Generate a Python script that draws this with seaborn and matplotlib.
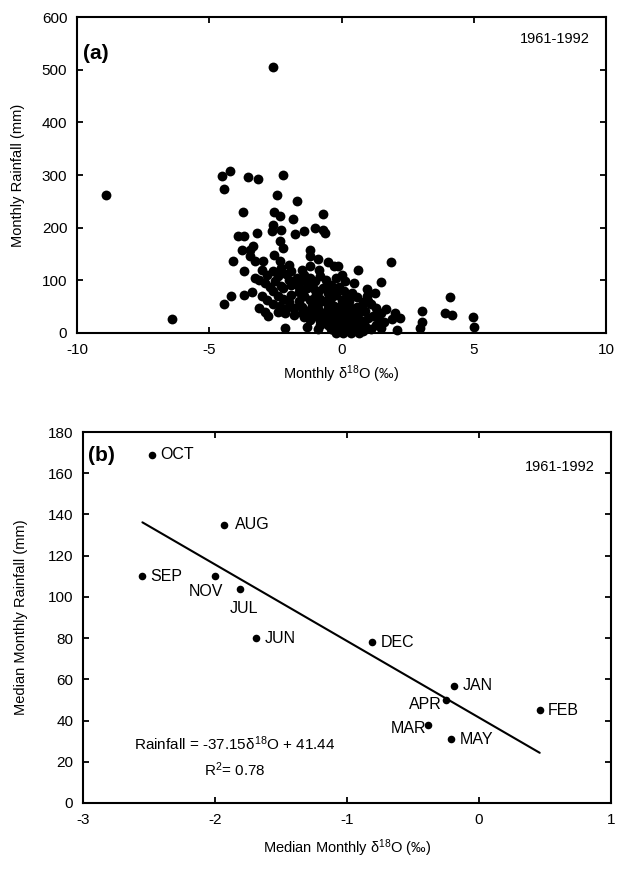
import matplotlib
matplotlib.use("Agg")
import matplotlib.pyplot as plt
import seaborn as sns
import pandas as pd

# ---------------- data ----------------
# Panel (a): monthly d18O vs monthly rainfall
d18o_monthly = [
    -8.9, -6.4, -2.6,
    -4.5, -4.2, -4.43, -3.54, -3.16, -2.2, -2.45, -1.7, -3.71, -2.55, -2.34, -0.71, -1.84,
    -2.58, -2.27, -2.62, -3.19, -3.9, -3.68, -1.77, -1.42, -1.02, -0.71, -0.64,
    -2.34, -2.2, -3.33, -3.75, -3.47, -1.2, -1.2, -4.1,
    -3.47, -3.26, -2.97, -2.55, -2.34, -1.98, -2.27, -3.68,
    -1.49, -1.2, -0.85, -0.28, -0.14, 0.61, 1.89, -3.26, -3.12,
    0.14, 0.47, 1.49, 0.95, 1.28, 0.95,
    -4.46, -4.18, -3.68, -3.4, -3.12, -2.76, -2.34, -2.27, -2.12, -2.12,
    3.04, 3.04, 2.95, 4.1, 3.92, 4.19, 4.99, 5.0, 2.03, 2.23, 2.1,
    -3.0, -2.8, -2.6, -2.4, -2.1, -1.9, -1.7, -2.9, -2.7, -2.5, -2.3, -2.0, -1.8, -1.6,
    -3.0, -2.8, -2.6, -2.4, -2.2, -1.9, -1.6, -2.9, -2.6, -2.0, -1.8, -1.6,
    -1.4, -1.2, -1.0, -0.8, -0.6, -0.4, -0.2, 0.0, -1.3, -1.1, -0.9, -0.7, -0.5, -0.3,
    -0.1, 0.1, -1.4, -1.2, -1.0, -0.8, -0.6, -0.4, -0.2, 0.0, 0.2, 0.4, 0.6,
    -1.5, -1.3, -1.1, -0.9, -0.7, -0.5, -0.3, -0.1, 0.1, 0.3, 0.5, 0.7, 0.9, 1.1, 1.3,
    1.5, 1.7, -1.4, -1.2, -1.0, -0.8, -0.6, -0.4, -0.2, 0.0, 0.2, 0.4, 0.6, 0.8, 1.0,
    1.2, 1.4, 1.6, 1.9,
    -1.3, -0.9, -0.5, -0.3, -0.1, 0.0, 0.1, 0.2, 0.3, 0.4, 0.5, 0.6, 0.7, 0.8, 0.9,
    1.1, 1.3, 1.5, 0.35, 0.05, -0.2, 0.65,
    -0.9, -0.5, 0.2, 0.8, 1.0, 0.3, -0.15, 0.45,
    -0.8, -0.6, -0.4, -0.2, 0.0, 0.2, 0.4, 0.6, 0.8, -0.7, -0.5, -0.3, -0.1, 0.1,
    0.3, 0.5, 0.7, -0.9, -0.6, -0.3, 0.0, 0.3, 0.6, 0.9, -2.2, -1.9, -1.6, -1.3,
    -1.0, -2.4, -2.1, -1.8, -1.5, -1.2,
]
rain_monthly = [
    262, 26, 505,
    298, 307, 274, 296, 292, 300, 262, 250, 230, 230, 223, 225, 217,
    205, 195, 194, 189, 184, 184, 188, 193, 200, 195, 189,
    175, 162, 165, 158, 157, 158, 147, 137,
    146, 137, 137, 149, 137, 130, 123, 117,
    120, 127, 120, 127, 127, 120, 134, 105, 100,
    98, 95, 96, 84, 76, 70,
    56, 70, 73, 77, 47, 33, 52, 41, 38, 10,
    41, 20, 10, 68, 38, 35, 30, 12, 38, 28, 6,
    120, 110, 118, 108, 112, 118, 105, 95, 88, 98, 90, 100, 95, 100,
    70, 62, 80, 70, 65, 72, 78, 40, 55, 58, 48, 60,
    110, 105, 98, 108, 100, 92, 105, 110, 85, 90, 78, 85, 75, 82,
    88, 80, 70, 62, 68, 65, 60, 66, 72, 62, 70, 75, 68,
    50, 42, 52, 45, 38, 48, 42, 50, 45, 52, 40, 48, 42, 55, 48,
    38, 45, 30, 25, 32, 22, 28, 20, 30, 24, 33, 26, 30, 22, 28,
    32, 25, 20, 26,
    12, 8, 15, 5, 12, 2, 8, 16, 3, 10, 18, 5, 12, 3, 14,
    8, 15, 10, 0, 0, 0, 0,
    140, 135, 58, 58, 60, 15, 20, 35,
    15, 20, 8, 22, 12, 25, 14, 20, 10, 35, 40, 32, 38, 30,
    42, 36, 40, 55, 58, 52, 56, 60, 50, 58, 85, 92, 88, 95,
    82, 40, 45, 35, 38, 42,
]

# Panel (b): median monthly values
months = ["OCT", "AUG", "SEP", "NOV", "JUL", "JUN", "DEC", "JAN", "APR", "MAR", "MAY", "FEB"]
d18o_median = [-2.48, -1.93, -2.55, -2.00, -1.81, -1.69, -0.81, -0.19, -0.25, -0.39, -0.21, 0.46]
rain_median = [169, 135, 110, 110, 104, 80, 78, 57, 50, 38, 31, 45]

# regression (from the figure's equation)
reg_slope = -37.15
reg_intercept = 41.44

period_label = "1961-1992"

# ---------------- style ----------------
sns.set_theme(style="ticks")
plt.rcParams["font.family"] = ["Liberation Sans", "DejaVu Sans"]
plt.rcParams["mathtext.fontset"] = "custom"
plt.rcParams["mathtext.rm"] = "Liberation Sans"
plt.rcParams["mathtext.it"] = "Liberation Sans:italic"
plt.rcParams["mathtext.bf"] = "Liberation Sans:bold"
plt.rcParams["axes.unicode_minus"] = False
for key in ["text.color", "axes.labelcolor", "xtick.color", "ytick.color",
            "axes.edgecolor"]:
    plt.rcParams[key] = "black"

fig = plt.figure(figsize=(6.17, 8.72), dpi=100)
W, H = 617, 872

def box(l, r, t, b):
    return [l / W, 1 - b / H, (r - l) / W, (b - t) / H]

ax1 = fig.add_axes(box(77, 606, 17, 333))
ax2 = fig.add_axes(box(83, 611, 432, 803))

def style_axes(ax):
    for s in ax.spines.values():
        s.set_linewidth(1.5)
        s.set_color("black")
    ax.tick_params(direction="in", length=4, width=1.3, top=True, right=True,
                   labelsize=11, colors="black", pad=7)

# ---- panel (a)
dfa = pd.DataFrame({"d18O": d18o_monthly, "rain": rain_monthly})
sns.scatterplot(data=dfa, x="d18O", y="rain", ax=ax1, color="black", s=50,
                edgecolor="black", linewidth=0, clip_on=False, zorder=3)
ax1.set_xlim(-10, 10)
ax1.set_ylim(0, 600)
ax1.set_xticks([-10, -5, 0, 5, 10])
ax1.set_yticks(range(0, 601, 100))
style_axes(ax1)
ax1.set_xlabel("Monthly δ$^{18}$O (‰)", fontsize=10.5, labelpad=5, color="black")
ax1.set_ylabel("Monthly Rainfall (mm)", fontsize=10.5, labelpad=12, color="black")
ax1.text(0.012, 0.886, "(a)", transform=ax1.transAxes, fontsize=15,
         fontweight="bold", va="center", color="black")
ax1.text(0.97, 0.93, period_label, transform=ax1.transAxes, fontsize=10.5,
         ha="right", va="center", color="black")

# ---- panel (b)
dfb = pd.DataFrame({"d18O": d18o_median, "rain": rain_median, "month": months})
sns.scatterplot(data=dfb, x="d18O", y="rain", ax=ax2, color="black", s=30,
                edgecolor="black", linewidth=0, zorder=3)
xl = [min(d18o_median), max(d18o_median)]
dfl = pd.DataFrame({"x": xl, "y": [reg_slope * v + reg_intercept for v in xl]})
sns.lineplot(data=dfl, x="x", y="y", ax=ax2, color="black", linewidth=1.5)

offsets = {
    "OCT": (6, 0, "left", "center"),
    "AUG": (8, 0, "left", "center"),
    "SEP": (6, 0, "left", "center"),
    "NOV": (6, -11, "right", "center"),
    "JUL": (3, -14, "center", "center"),
    "JUN": (6, 0, "left", "center"),
    "DEC": (6, 0, "left", "center"),
    "JAN": (6, 0, "left", "center"),
    "APR": (-3, -3, "right", "center"),
    "MAR": (-1, -3, "right", "center"),
    "MAY": (6, 0, "left", "center"),
    "FEB": (6, 0, "left", "center"),
}
for m, xv, yv in zip(months, d18o_median, rain_median):
    dx, dy, ha, va = offsets[m]
    ax2.annotate(m, (xv, yv), xytext=(dx, dy), textcoords="offset points",
                 ha=ha, va=va, fontsize=11.5, color="black")

ax2.set_xlim(-3, 1)
ax2.set_ylim(0, 180)
ax2.set_xticks([-3, -2, -1, 0, 1])
ax2.set_yticks(range(0, 181, 20))
style_axes(ax2)
ax2.set_xlabel("Median Monthly δ$^{18}$O (‰)", fontsize=10.5, labelpad=8, color="black")
ax2.set_ylabel("Median Monthly Rainfall (mm)", fontsize=10.5, labelpad=14, color="black")
ax2.text(0.01, 0.938, "(b)", transform=ax2.transAxes, fontsize=15,
         fontweight="bold", va="center", color="black")
ax2.text(0.97, 0.906, period_label, transform=ax2.transAxes, fontsize=10.5,
         ha="right", va="center", color="black")
ax2.text(-1.85, 29, "Rainfall = -37.15δ$^{18}$O + 41.44", fontsize=11,
         ha="center", va="center", color="black")
ax2.text(-1.85, 16, "R$^{2}$= 0.78", fontsize=11, ha="center", va="center",
         color="black")

fig.savefig("out.png", dpi=100, facecolor="white")
